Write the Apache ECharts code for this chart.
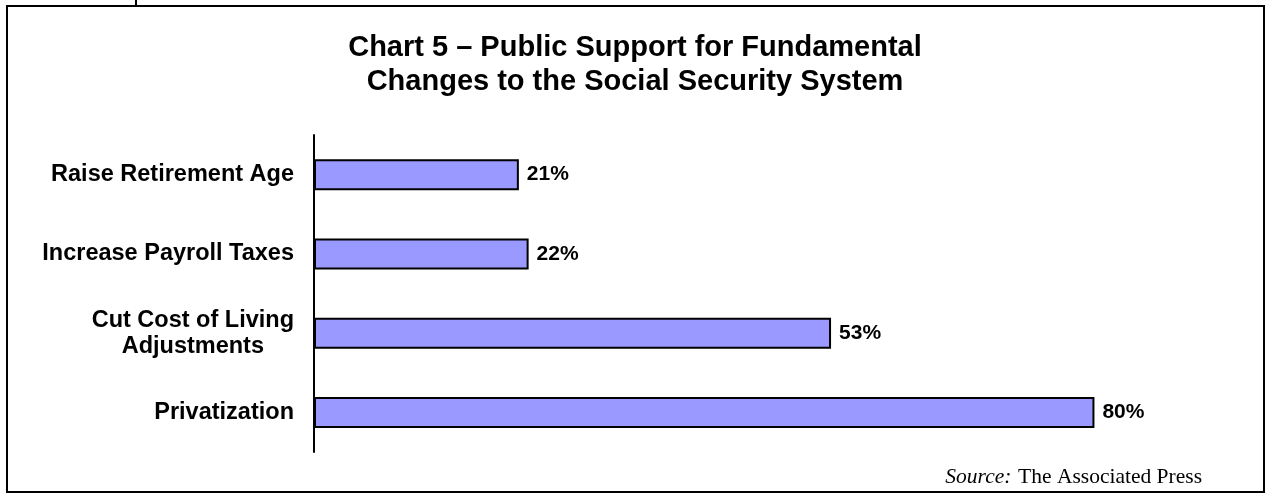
<!DOCTYPE html>
<html>
<head>
<meta charset="utf-8">
<script src="https://cdn.jsdelivr.net/npm/echarts@6/dist/echarts.min.js"></script>
<style>
html,body{margin:0;padding:0;background:#fff;}
#chart{width:1270px;height:494px;}
</style>
</head>
<body>
<div id="chart"></div>
<script>
const titleLines = ['Chart 5 \u2013 Public Support for Fundamental', 'Changes to the Social Security System'];
const categories = ['Raise Retirement Age', 'Increase Payroll Taxes', 'Cut Cost of Living\nAdjustments', 'Privatization'];
const support = [21, 22, 53, 80];
const sourceLabel = 'Source:';
const sourceName = 'The Associated Press';

const SANS = "'Liberation Sans', Arial, Helvetica, sans-serif";
const SERIF = "'Liberation Serif', 'Times New Roman', serif";

const chart = echarts.init(document.getElementById('chart'), null, {renderer: 'canvas'});
chart.setOption({
  backgroundColor: '#ffffff',
  animation: false,
  title: {
    text: titleLines.join('\n'),
    left: 'center',
    top: 26,
    textStyle: {fontFamily: SANS, fontWeight: 'bold', fontSize: 29, lineHeight: 34, color: '#000'}
  },
  grid: {left: 314, top: 135, right: 78, bottom: 42, containLabel: false},
  xAxis: {
    type: 'value', min: 0, max: 90, show: false
  },
  yAxis: {
    type: 'category',
    data: categories,
    inverse: true,
    axisLine: {show: true, lineStyle: {color: '#000', width: 2}},
    axisTick: {show: false},
    axisLabel: {
      margin: 20,
      formatter: v => v.split('\n').map(l => '{c|' + l + '}').join('\n'),
      rich: {
        c: {align: 'center', fontFamily: SANS, fontWeight: 'bold', fontSize: 23.5, lineHeight: 26, color: '#000'}
      }
    }
  },
  series: [{
    type: 'bar',
    data: support,
    barWidth: 31,
    itemStyle: {color: '#9999ff', borderColor: '#000', borderWidth: 2},
    label: {
      show: true, position: 'right', distance: 8,
      formatter: p => p.value + '%',
      fontFamily: SANS, fontWeight: 'bold', fontSize: 21, color: '#000'
    }
  }],
  graphic: [
    {type: 'rect', shape: {x: 7, y: 6, width: 1257, height: 486}, style: {fill: 'none', stroke: '#000', lineWidth: 2}, silent: true},
    {type: 'line', shape: {x1: 136, y1: 0, x2: 136, y2: 6}, style: {stroke: '#000', lineWidth: 2}, silent: true},
    {
      type: 'text', right: 68, top: 466,
      style: {
        text: '{i|' + sourceLabel + '}  {n|' + sourceName + '}',
        rich: {
          i: {fontFamily: SERIF, fontStyle: 'italic', fontSize: 21.5, fill: '#000'},
          n: {fontFamily: SERIF, fontSize: 21.5, fill: '#000'}
        }
      }
    }
  ]
});
</script>
</body>
</html>
